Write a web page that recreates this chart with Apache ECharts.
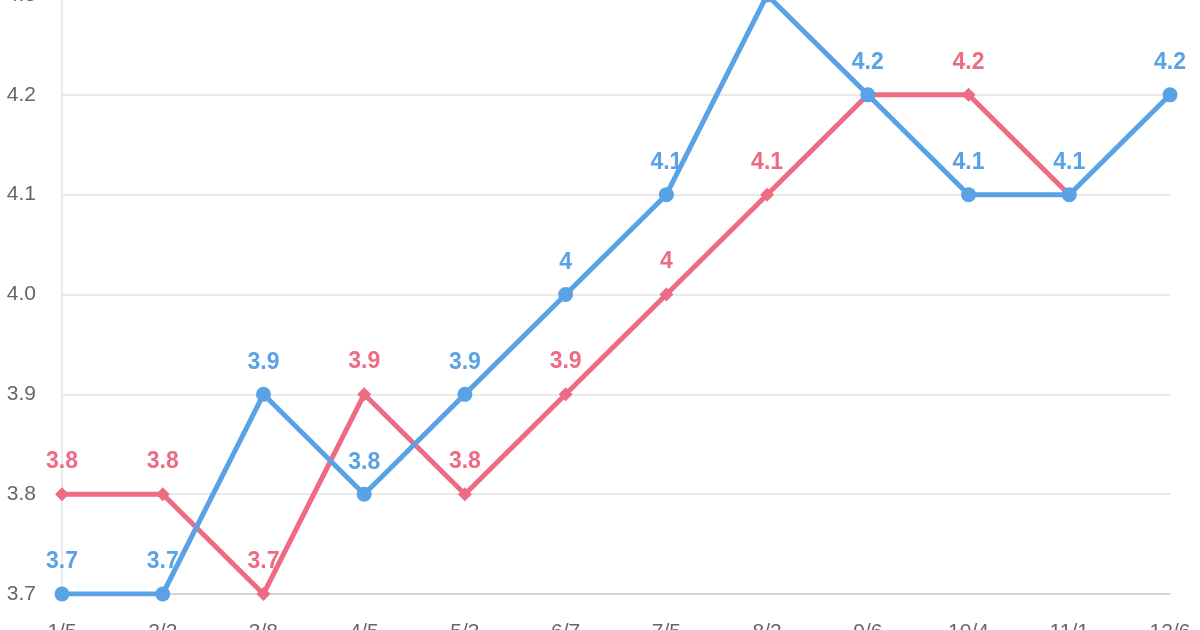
<!DOCTYPE html>
<html>
<head>
<meta charset="utf-8">
<script src="https://cdn.jsdelivr.net/npm/echarts@6/dist/echarts.min.js"></script>
<style>
html, body { margin: 0; padding: 0; background: #fff; }
#chart { width: 1200px; height: 630px; }
</style>
</head>
<body>
<div id="chart"></div>
<script>
var months = ['1/5', '2/2', '3/8', '4/5', '5/3', '6/7', '7/5', '8/2', '9/6', '10/4', '11/1', '12/6'];
var blueVals = [3.7, 3.7, 3.9, 3.8, 3.9, 4.0, 4.1, 4.3, 4.2, 4.1, 4.1, 4.2];
var redVals = [3.8, 3.8, 3.7, 3.9, 3.8, 3.9, 4.0, 4.1, 4.2, 4.2, 4.1, null];
var yTicks = [3.7, 3.8, 3.9, 4.0, 4.1, 4.2, 4.3];

var blueColor = '#5aa2e6';
var redColor = '#ee6b84';
var fontName = '"Liberation Sans", Helvetica, Arial, sans-serif';

var chart = echarts.init(document.getElementById('chart'));

var option = {
	animation : false,
	grid : {
		left : 62,
		right : 30,
		top : -5,
		bottom : 36,
		outerBoundsMode : 'none',
		containLabel : false
	},
	xAxis : {
		type : 'category',
		boundaryGap : false,
		data : months,
		axisLine : { lineStyle : { color : '#cccccc', width : 1.5 } },
		axisTick : { show : false },
		axisLabel : {
			color : '#666666',
			fontSize : 21,
			fontFamily : fontName,
			margin : 28
		}
	},
	yAxis : {
		type : 'value',
		min : 3.7,
		max : 4.3,
		interval : 0.1,
		axisLine : { show : true, lineStyle : { color : '#e3e3e3', width : 1.5 } },
		axisTick : { show : false },
		splitLine : { lineStyle : { color : '#e3e3e3', width : 1.5 } },
		axisLabel : {
			color : '#666666',
			fontSize : 21,
			fontFamily : fontName,
			margin : 26,
			formatter : function(v) {
				var t = Math.round(v * 10) / 10;
				return yTicks.indexOf(t) >= 0 ? t.toFixed(1) : '';
			}
		}
	},
	series : [
		{
			name : 'red',
			type : 'line',
			data : redVals,
			symbol : 'diamond',
			symbolSize : 14,
			lineStyle : { color : redColor, width : 5 },
			itemStyle : { color : redColor },
			label : {
				show : true,
				position : 'top',
				distance : 14,
				color : redColor,
				fontSize : 23,
				fontWeight : 'bold',
				fontFamily : fontName,
				formatter : function(p) {
					// the blue label sits on top where both lines meet
					return blueVals[p.dataIndex] === p.value ? '' : String(p.value);
				}
			}
		},
		{
			name : 'blue',
			type : 'line',
			data : blueVals,
			symbol : 'circle',
			symbolSize : 15,
			lineStyle : { color : blueColor, width : 5 },
			itemStyle : { color : blueColor },
			label : {
				show : true,
				position : 'top',
				distance : 13,
				color : blueColor,
				fontSize : 23,
				fontWeight : 'bold',
				fontFamily : fontName
			}
		}
	]
};

chart.setOption(option);
window.onresize = chart.resize;
</script>
</body>
</html>
